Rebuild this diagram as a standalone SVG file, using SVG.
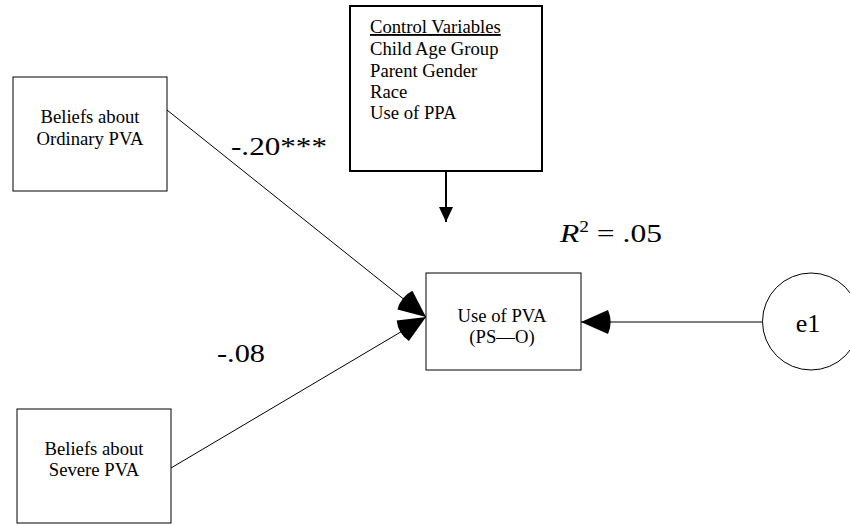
<svg xmlns="http://www.w3.org/2000/svg" width="850" height="525" viewBox="0 0 850 525">
<defs>
<style>
.box{fill:#fff;stroke:#000;stroke-width:1}
.thick{fill:#fff;stroke:#000;stroke-width:2}
.t{font-family:"Liberation Serif","Times New Roman",serif;font-size:18.67px;fill:#000}
.c{text-anchor:middle}
.lbl{font-family:"Liberation Serif","Times New Roman",serif;font-size:26px;fill:#000}
.ln{stroke:#000;stroke-width:1;fill:none}
</style>
<marker id="wedge" markerUnits="userSpaceOnUse" viewBox="-32 -16 34 32" refX="0" refY="0" markerWidth="34" markerHeight="32" orient="auto">
<path d="M0,0 L-27,-12 A29.5,29.5 0 0,0 -27,12 Z" fill="#000"/>
</marker>
<marker id="tri" markerUnits="userSpaceOnUse" viewBox="-17 -9 18 18" refX="0" refY="0" markerWidth="18" markerHeight="18" orient="auto">
<path d="M0,0 L-15,-7 L-15,7 Z" fill="#000"/>
</marker>
</defs>
<rect width="850" height="525" fill="#fff"/>
<g id="connectors">
<line class="ln" x1="167" y1="110" x2="426" y2="317" marker-end="url(#wedge)"/>
<line class="ln" x1="171" y1="468" x2="426" y2="317" marker-end="url(#wedge)"/>
<line class="ln" x1="763" y1="322" x2="581" y2="322" marker-end="url(#wedge)"/>
<line x1="446" y1="172" x2="446" y2="222" stroke="#000" stroke-width="2" marker-end="url(#tri)"/>
</g>
<g id="ordinary">
<rect class="box" x="13" y="77" width="154" height="114"/>
<text class="t c" x="90" y="123">Beliefs about</text>
<text class="t c" x="90" y="145">Ordinary PVA</text>
</g>
<g id="severe">
<rect class="box" x="17" y="409" width="154" height="114"/>
<text class="t c" x="94" y="455">Beliefs about</text>
<text class="t c" x="94" y="476">Severe PVA</text>
</g>
<g id="control">
<rect class="thick" x="350" y="6" width="192" height="165"/>
<text class="t" x="370" y="33" text-decoration="underline">Control Variables</text>
<text class="t" x="370" y="55">Child Age Group</text>
<text class="t" x="370" y="77">Parent Gender</text>
<text class="t" x="370" y="98">Race</text>
<text class="t" x="370" y="119">Use of PPA</text>
</g>
<g id="use">
<rect class="box" x="426" y="273" width="155" height="97"/>
<text class="t c" x="502" y="322">Use of PVA</text>
<text class="t c" x="502" y="343">(PS—O)</text>
</g>
<g id="e1">
<circle class="box" cx="811" cy="321.5" r="48.5"/>
<text class="lbl c" x="808" y="332">e1</text>
</g>
<g id="labels">
<text class="lbl" x="231" y="155" textLength="96" lengthAdjust="spacingAndGlyphs">-.20***</text>
<text class="lbl" x="217" y="362" textLength="48" lengthAdjust="spacingAndGlyphs">-.08</text>
<text class="lbl" x="560" y="242" textLength="102" lengthAdjust="spacingAndGlyphs"><tspan font-style="italic">R</tspan><tspan dy="-10" font-size="16">2</tspan><tspan dy="10"> = .05</tspan></text>
</g>
</svg>
